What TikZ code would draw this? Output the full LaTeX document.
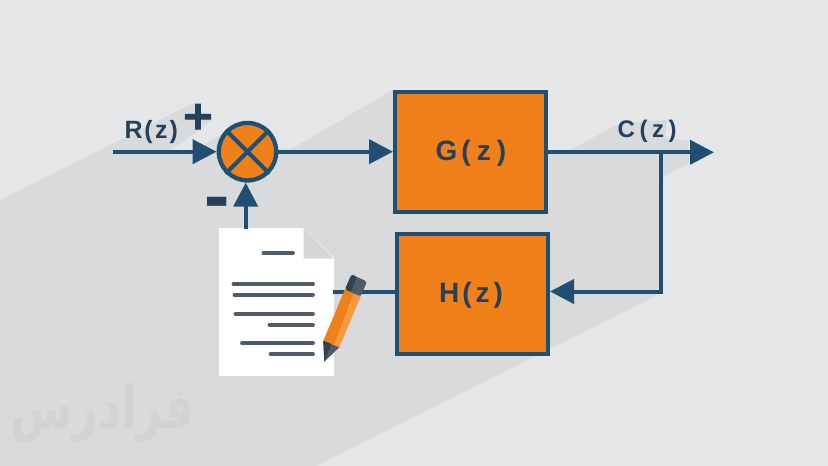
\documentclass[tikz,border=0pt]{standalone}
\usepackage{fontspec}
\usetikzlibrary{arrows.meta,calc}
\setmainfont{Liberation Sans}
\newfontfamily\arabicfont[Script=Arabic]{DejaVu Sans}
\newfontfamily\symfont[FakeBold=2.5]{DejaVu Sans Bold}
\TeXXeTstate=1
\definecolor{bgc}{HTML}{E5E6E8}
\definecolor{shad}{HTML}{D9DADC}
\definecolor{fold}{HTML}{D5D6D8}
\definecolor{wmark}{HTML}{D2D3D5}
\definecolor{linec}{HTML}{205071}
\definecolor{textc}{HTML}{25405A}
\definecolor{orangec}{HTML}{F0801A}
\definecolor{orangel}{HTML}{F79A40}
\definecolor{greyc}{HTML}{4F5B67}
\definecolor{greyd}{HTML}{33424F}
\tikzset{
  conn/.style={draw=linec,line width=4pt},
  arrowed/.style={conn,-{Triangle[length=24pt,width=24pt]}},
  blockbox/.style={draw=linec,fill=orangec,line width=4pt,minimum width=151pt,minimum height=120pt,inner sep=0pt},
  lbl/.style={anchor=base west,inner sep=0pt,text=textc,font=\bfseries\fontsize{#1}{#1}\selectfont},
  docline/.style={draw=greyc,line width=3.8pt,line cap=round},
}
\begin{document}
\begin{tikzpicture}[x=1pt,y=-1pt]
\useasboundingbox (0,0) rectangle (828,466);
\fill[bgc] (0,0) rectangle (828,466);
% long shadow
\fill[shad] (0,200) -- (193,103) -- (212,120) -- (172,150) -- (197,150) -- (200,147) -- (217,137)
  -- (248,120) -- (278,150) -- (293,148) -- (393,90) -- (548,150) -- (570,150) -- (620,123)
  -- (667,120) -- (665,138) -- (688,141) -- (689,163) -- (663,177) -- (663,292) -- (316,466) -- (0,466) -- cycle;
% blocks
\node[blockbox] (G) at (470.5,152) {};
\node[blockbox] (H) at (472.5,294) {};
\node[circle,draw=linec,fill=orangec,line width=4.3pt,minimum size=57.5pt,inner sep=0pt] (sum) at (247.5,151.7) {};
\draw[conn] (sum.45) -- (sum.225) (sum.135) -- (sum.315);
% free ends
\coordinate (in) at (113,151.7);
\coordinate (out) at (714,152.3);
\coordinate (branch) at (661.3,152.3);
\coordinate (back) at (661.3,291.5);
\coordinate (fb) at (245.7,229);
% document
\node[fill=white,minimum width=114.4pt,minimum height=147.7pt,inner sep=0pt] (doc) at (276.5,302.2) {};
\coordinate (docedge) at (333,291.5);
% connectors
\draw[arrowed] (in) -- (sum.west);
\draw[arrowed] (sum.east) -- (sum.east -| G.west);
\draw[arrowed] (G.east |- out) -- (out);
\draw[conn] (branch) -- (back);
\draw[arrowed] ($(back)+(2,0)$) -- (back -| H.east);
\draw[conn] (H.west |- back) -- (docedge);
\draw[arrowed] (fb) -- (fb |- sum.south);
% fold
\fill[shad] (303.7,228) -- (335,228) -- (335,258.7) -- cycle;
\fill[fold] (303.7,228.3) -- (333.7,258.7) -- (303.7,258.7) -- cycle;
% document text lines
\draw[docline] (263.5,253.3) -- (293,253.3);
\draw[docline] (233.5,284) -- (313,284);
\draw[docline] (234.5,295) -- (313,295);
\draw[docline] (235.5,313.7) -- (313,313.7);
\draw[docline] (269.5,324.7) -- (313,324.7);
\draw[docline] (242,343.3) -- (313,343.3);
\draw[docline] (270.5,354.3) -- (313,354.3);
% pencil
\fill[orangec] (323.3,340.7) -- (345,289.3) -- (354,293.5) -- (334,345) -- cycle;
\fill[orangel] (334,345) -- (354,293.5) -- (360.7,296.7) -- (339.3,347.3) -- cycle;
\fill[greyc,rounded corners=2.5pt] (345,289.3) -- (351.5,274.5) -- (367,281.5) -- (360.7,296.7) -- cycle;
\fill[greyd,rounded corners=1.5pt] (345,289.3) -- (351.5,274.5) -- (357,276.8) -- (351,291.8) -- cycle;
\fill[greyc] (323.3,340.7) -- (339.3,347.3) -- (324.3,361.7) -- cycle;
\fill[greyd] (323.3,340.7) -- (331.3,344) -- (324.3,361.7) -- cycle;
% labels
\node[lbl=25] (R) at (124.5,138.3) {R\hspace{1.5pt}(\hspace{2.5pt}z\hspace{2pt})};
\node[lbl=24] (C) at (617.5,137.3) {C\hspace{4.5pt}(\hspace{4.5pt}z\hspace{4.5pt})};
\node[lbl=28] (Gt) at (435.5,160) {G\hspace{4pt}(\hspace{6pt}z\hspace{6pt})};
\node[lbl=28] (Ht) at (439,302.3) {H\hspace{3pt}(\hspace{4pt}z\hspace{4pt})};
\node[text=textc,inner sep=0pt,font=\symfont\fontsize{40}{40}\selectfont] (plus) at (198,116.7) {+};
\node[text=textc,inner sep=0pt,font=\bfseries\fontsize{76}{76}\selectfont] (minus) at (217,209) {-};
\node[text=wmark,inner sep=0pt,xscale=0.9,yscale=1.2,font=\bfseries\fontsize{50}{50}\selectfont] (wm) at (102,413) {\arabicfont\bfseries\beginR فرادرس\endR};
\end{tikzpicture}
\end{document}
